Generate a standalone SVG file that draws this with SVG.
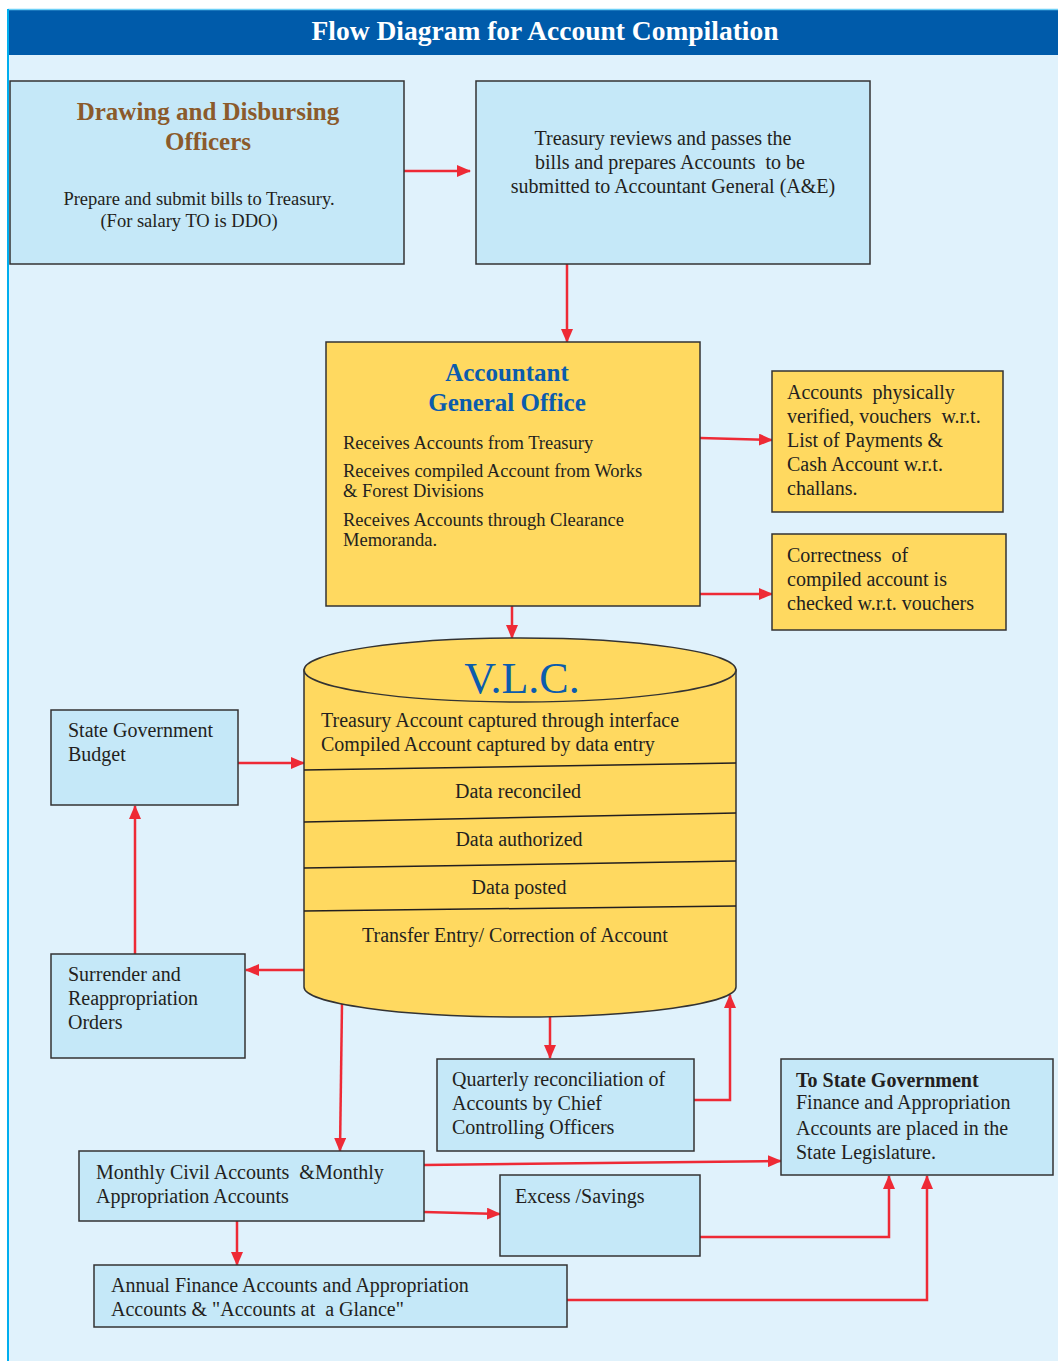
<svg xmlns="http://www.w3.org/2000/svg" width="1058" height="1361" viewBox="0 0 1058 1361">
<style>
text{white-space:pre}
.bg{fill:#E0F2FC}
.blue{fill:#C5E8F8;stroke:#333;stroke-width:1.5}
.yel{fill:#FFD960;stroke:#333;stroke-width:1.5}
.t{font-family:"Liberation Serif",serif;font-size:20px;fill:#231F20}
.ts{font-family:"Liberation Serif",serif;font-size:18.5px;fill:#231F20}
.c{text-anchor:middle}
.hb{font-family:"Liberation Serif",serif;font-weight:bold;font-size:25px;fill:#8B5A2B;text-anchor:middle}
.hy{font-family:"Liberation Serif",serif;font-weight:bold;font-size:25px;fill:#0B5CAD;text-anchor:middle}
.ln{fill:none;stroke:#EE2A35;stroke-width:2.5}
.sep{fill:none;stroke:#231F20;stroke-width:1.5}
</style>
<defs>
<marker id="ah" markerWidth="14" markerHeight="12" refX="13" refY="6" orient="auto" markerUnits="userSpaceOnUse">
<path d="M0,0 L14,6 L0,12 Z" fill="#EE2A35"/>
</marker>
</defs>
<rect x="0" y="0" width="1058" height="1361" fill="#fff"/>
<rect class="bg" x="8" y="55" width="1050" height="1306"/>
<rect x="8" y="9" width="1050" height="46" fill="#005BAA"/>
<line x1="8" y1="9.5" x2="1058" y2="9.5" stroke="#6CCFF6" stroke-width="1.5"/>
<line x1="8" y1="9" x2="8" y2="1361" stroke="#00AEEF" stroke-width="2"/>
<text x="545" y="40" font-family="Liberation Serif,serif" font-weight="bold" font-size="27.5" fill="#fff" text-anchor="middle">Flow Diagram for Account Compilation</text>

<g id="connectors">
<path class="ln" d="M404,171 L470,171" marker-end="url(#ah)"/>
<path class="ln" d="M567,264 L567,342" marker-end="url(#ah)"/>
<path class="ln" d="M700,438 L772,440" marker-end="url(#ah)"/>
<path class="ln" d="M700,594 L772,594" marker-end="url(#ah)"/>
<path class="ln" d="M512,606 L512,638" marker-end="url(#ah)"/>
<path class="ln" d="M234,763 L304,763" marker-end="url(#ah)"/>
<path class="ln" d="M135,954 L135,806" marker-end="url(#ah)"/>
<path class="ln" d="M304,970 L246,970" marker-end="url(#ah)"/>
<path class="ln" d="M342,1003 L340,1151" marker-end="url(#ah)"/>
<path class="ln" d="M550,1017 L550,1058" marker-end="url(#ah)"/>
<path class="ln" d="M694,1100 L730,1100 L730,995" marker-end="url(#ah)"/>
<path class="ln" d="M424,1165 L781,1161" marker-end="url(#ah)"/>
<path class="ln" d="M424,1212 L500,1214" marker-end="url(#ah)"/>
<path class="ln" d="M700,1237 L889,1237 L889,1176" marker-end="url(#ah)" stroke-width="2"/>
<path class="ln" d="M237,1221 L237,1265" marker-end="url(#ah)" stroke-width="3.5"/>
<path class="ln" d="M567,1300 L927,1300 L927,1176" marker-end="url(#ah)"/>
</g>

<g id="ddo">
<rect class="blue" x="10" y="81" width="394" height="183"/>
<text class="hb" x="208" y="120">Drawing and Disbursing</text>
<text class="hb" x="208" y="150">Officers</text>
<text class="ts c" x="199" y="205">Prepare and submit bills to Treasury.</text>
<text class="ts c" x="189" y="227">(For salary TO is DDO)</text>
</g>

<g id="treasury">
<rect class="blue" x="476" y="81" width="394" height="183"/>
<text class="t c" x="663" y="145">Treasury reviews and passes the</text>
<text class="t c" x="670" y="169">bills and prepares Accounts  to be</text>
<text class="t c" x="673" y="193">submitted to Accountant General (A&amp;E)</text>
</g>

<g id="ag">
<rect class="yel" x="326" y="342" width="374" height="264"/>
<text class="hy" x="507" y="381">Accountant</text>
<text class="hy" x="507" y="411">General Office</text>
<text class="ts" x="343" y="449">Receives Accounts from Treasury</text>
<text class="ts" x="343" y="477">Receives compiled Account from Works</text>
<text class="ts" x="343" y="497">&amp; Forest Divisions</text>
<text class="ts" x="343" y="526">Receives Accounts through Clearance</text>
<text class="ts" x="343" y="546">Memoranda.</text>
</g>

<g id="verified">
<rect class="yel" x="772" y="371" width="231" height="141"/>
<text class="t" x="787" y="399">Accounts  physically</text>
<text class="t" x="787" y="423">verified, vouchers  w.r.t.</text>
<text class="t" x="787" y="447">List of Payments &amp;</text>
<text class="t" x="787" y="471">Cash Account w.r.t.</text>
<text class="t" x="787" y="495">challans.</text>
</g>

<g id="correctness">
<rect class="yel" x="772" y="534" width="234" height="96"/>
<text class="t" x="787" y="562">Correctness  of</text>
<text class="t" x="787" y="586">compiled account is</text>
<text class="t" x="787" y="610">checked w.r.t. vouchers</text>
</g>

<g id="vlc">
<path class="yel" d="M304,670 L304,987 A216,30 0 0 0 736,987 L736,670 Z"/>
<ellipse class="yel" cx="520" cy="670" rx="216" ry="32"/>
<path class="sep" d="M304,770 L736,763"/>
<path class="sep" d="M304,822 L736,813"/>
<path class="sep" d="M304,868 L736,861"/>
<path class="sep" d="M304,911 L736,906"/>
<text x="522" y="693" font-family="Liberation Serif,serif" font-size="44" fill="#0B5CAD" text-anchor="middle">V.L.C.</text>
<text class="t" x="321" y="727">Treasury Account captured through interface</text>
<text class="t" x="321" y="751">Compiled Account captured by data entry</text>
<text class="t c" x="518" y="798">Data reconciled</text>
<text class="t c" x="519" y="846">Data authorized</text>
<text class="t c" x="519" y="894">Data posted</text>
<text class="t c" x="515" y="942">Transfer Entry/ Correction of Account</text>
</g>

<g id="budget">
<rect class="blue" x="51" y="710" width="187" height="95"/>
<text class="t" x="68" y="737">State Government</text>
<text class="t" x="68" y="761">Budget</text>
</g>

<g id="surrender">
<rect class="blue" x="51" y="954" width="194" height="104"/>
<text class="t" x="68" y="981">Surrender and</text>
<text class="t" x="68" y="1005">Reappropriation</text>
<text class="t" x="68" y="1029">Orders</text>
</g>

<g id="quarterly">
<rect class="blue" x="437" y="1059" width="257" height="92"/>
<text class="t" x="452" y="1086">Quarterly reconciliation of</text>
<text class="t" x="452" y="1110">Accounts by Chief</text>
<text class="t" x="452" y="1134">Controlling Officers</text>
</g>

<g id="tostate">
<rect class="blue" x="781" y="1059" width="272" height="116"/>
<text class="t" x="796" y="1087" font-weight="bold">To State Government</text>
<text class="t" x="796" y="1109">Finance and Appropriation</text>
<text class="t" x="796" y="1135">Accounts are placed in the</text>
<text class="t" x="796" y="1159">State Legislature.</text>
</g>

<g id="monthly">
<rect class="blue" x="79" y="1151" width="345" height="70"/>
<text class="t" x="96" y="1179">Monthly Civil Accounts  &amp;Monthly</text>
<text class="t" x="96" y="1203">Appropriation Accounts</text>
</g>

<g id="excess">
<rect class="blue" x="500" y="1175" width="200" height="81"/>
<text class="t" x="515" y="1203">Excess /Savings</text>
</g>

<g id="annual">
<rect class="blue" x="94" y="1265" width="473" height="62"/>
<text class="t" x="111" y="1292">Annual Finance Accounts and Appropriation</text>
<text class="t" x="111" y="1316">Accounts &amp; "Accounts at  a Glance"</text>
</g>
</svg>
